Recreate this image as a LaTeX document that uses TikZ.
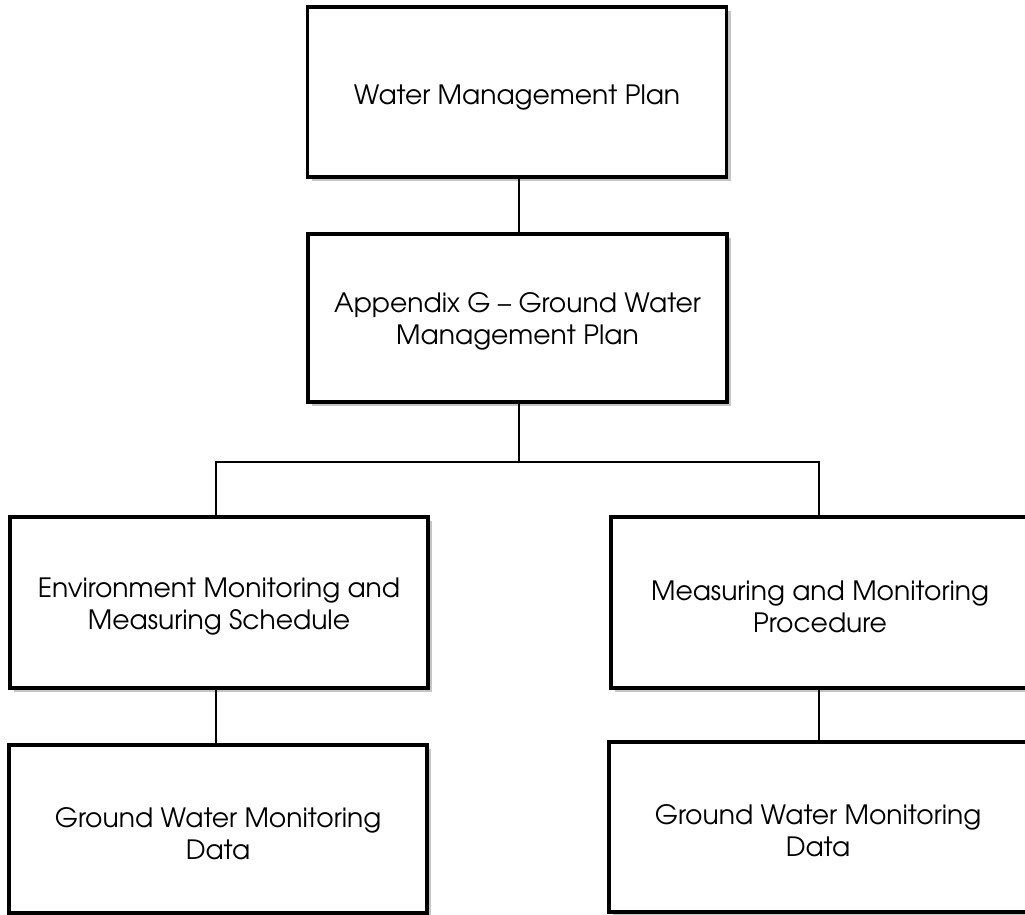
\documentclass[tikz,border=0pt]{standalone}
\usepackage{fontspec}
\setmainfont{TeX Gyre Adventor}
\usetikzlibrary{shadows}
\begin{document}
\begin{tikzpicture}[x=1pt,y=-1pt,
  box/.style={draw=black, line width=3.4pt, fill=white, minimum width=419pt, minimum height=170pt,
    inner sep=0pt,
    drop shadow={shadow xshift=4pt, shadow yshift=-4pt, fill=black!45, opacity=0.5}},
  txt/.style={align=center, font=\fontsize{26.6}{32}\selectfont, inner sep=0pt},
  link/.style={draw=black, line width=2.2pt}]
\useasboundingbox (0,0) rectangle (1025,915);
\fill[white] (0,0) rectangle (1025,915);
\node[box] (b1) at (517,92) {};
\node[box, minimum height=168pt] (b2) at (517.5,318) {};
\node[box, minimum width=418pt, minimum height=171pt] (b3) at (219,602.5) {};
\node[box, minimum width=418pt, minimum height=171pt] (b4) at (820,602.5) {};
\node[box, minimum width=418pt, minimum height=168pt] (b5) at (218,829) {};
\node[box, minimum width=418pt, minimum height=170pt] (b6) at (818,827) {};
\node[txt] (t1) at ([yshift=-6pt]b1.center) {Water Management Plan};
\node[txt] (t2) at ([yshift=-3pt]b2.center) {Appendix G – Ground Water\\Management Plan};
\node[txt] (t3) at ([yshift=-4pt]b3.center) {Environment Monitoring and\\Measuring Schedule};
\node[txt] (t4) at ([yshift=-4pt]b4.center) {Measuring and Monitoring\\Procedure};
\node[txt] (t5) at ([yshift=-5pt]b5.center) {Ground Water Monitoring\\Data};
\node[txt] (t6) at ([yshift=-4pt]b6.center) {Ground Water Monitoring\\Data};
\coordinate (j) at (519,462);
\draw[link] (j |- b1.south) -- (j |- b2.north);
\draw[link] (j |- b2.south) -- (j);
\draw[link] (j) -| ([xshift=-3pt]b3.north);
\draw[link] (j) -| ([xshift=-1pt]b4.north);
\draw[link] ([xshift=-3pt]b3.south) -- ([xshift=-3pt]b3.south |- b5.north);
\draw[link] ([xshift=-1pt]b4.south) -- ([xshift=-1pt]b4.south |- b6.north);
\end{tikzpicture}
\end{document}
